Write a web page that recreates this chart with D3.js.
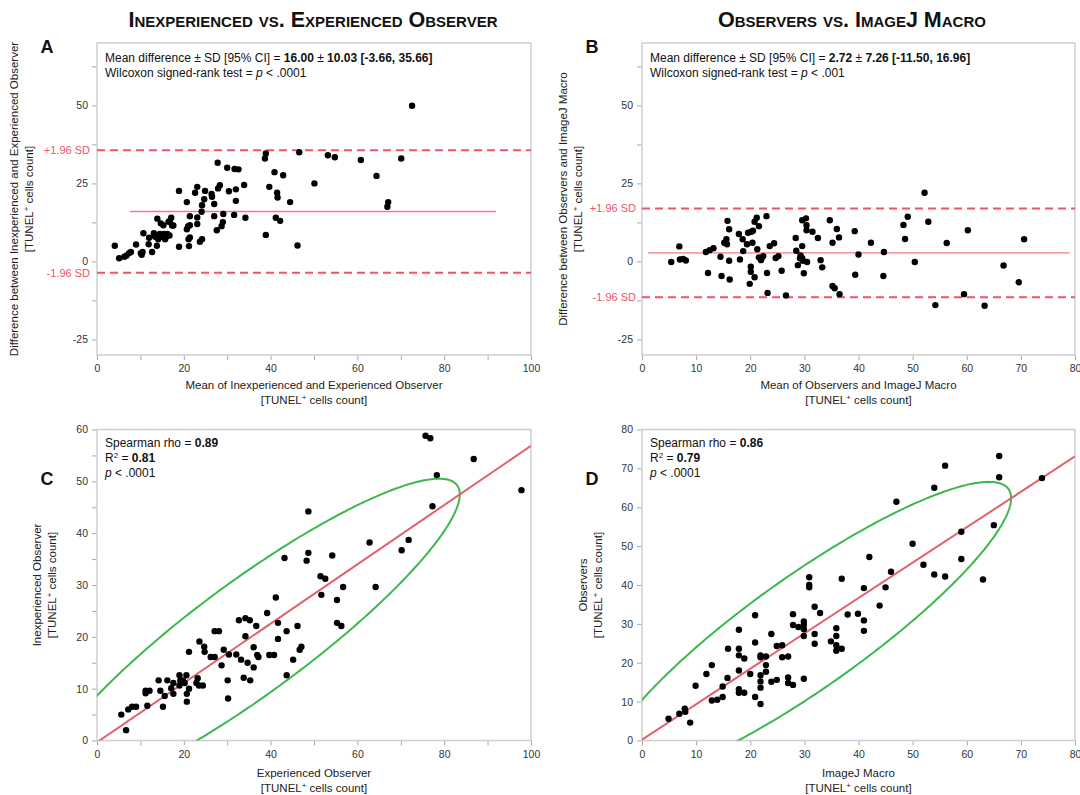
<!DOCTYPE html>
<html><head><meta charset="utf-8">
<script src="https://cdn.jsdelivr.net/npm/d3@7"></script>
<style>
body{margin:0;background:#fff}
text{font-family:"Liberation Sans",Arial,Helvetica,sans-serif}
</style>
</head><body><script>
// ---------------- DATA ----------------
const titles = ["Inexperienced vs. Experienced Observer", "Observers vs. ImageJ Macro"];
const panelLetters = ["A", "B", "C", "D"];

// Panel A: Bland-Altman, inexperienced vs experienced
const aMean = [4.1,5.1,6.3,6.8,7.4,7.8,9.0,10.1,10.3,10.5,10.7,11.9,12.0,12.7,13.1,13.4,13.8,13.9,14.1,14.5,14.7,14.9,15.3,15.4,15.7,15.9,16.2,16.5,16.7,16.8,17.1,17.3,17.6,18.9,18.9,20.7,20.7,21.0,21.1,21.2,21.4,21.4,21.4,22.6,23.1,23.1,23.1,23.7,24.2,24.1,24.2,24.7,24.9,26.4,26.5,27.0,27.0,27.8,27.9,28.3,27.6,28.7,29.0,29.1,30.0,30.4,31.7,32.6,32.0,32.0,31.6,33.9,34.2,38.9,38.7,38.9,40.9,39.7,41.5,41.6,42.9,41.2,42.2,44.5,46.2,46.6,50.1,53.2,54.8,60.8,64.4,67.1,66.9,70.1,72.6];
const aDiff = [5.0,1.0,1.5,1.9,2.6,3.0,5.4,2.6,2.1,3.0,9.0,5.5,7.6,3.0,9.0,7.9,5.0,13.7,7.1,8.8,12.2,7.9,11.6,8.8,7.1,7.9,8.8,12.7,8.3,13.0,14.0,11.5,11.5,22.6,4.7,19.0,10.3,11.3,7.1,4.9,7.7,14.5,11.6,22.0,23.9,14.1,12.0,6.3,7.1,15.9,18.0,19.9,22.6,21.6,20.7,18.4,14.5,31.6,23.4,24.4,10.0,11.3,12.6,15.2,30.0,22.5,29.6,29.5,23.1,19.4,14.9,24.5,14.0,34.6,33.0,8.5,28.6,23.9,22.0,20.5,27.6,14.0,13.0,19.0,5.1,35.0,25.0,34.0,33.4,32.5,27.4,19.0,17.5,33.0,49.9];
const aStats = [16.00, 10.03, -3.66, 35.66];       // mean, SD, lower, upper
const aMeanLineSpan = [7.6, 91.9];

// Panel B: Bland-Altman, observers vs ImageJ macro
const bMean = [5.4,6.9,7.0,7.6,8.1,11.8,12.2,12.5,13.2,14.5,14.7,15.2,15.6,15.8,15.7,16.1,16.1,16.2,17.9,18.1,18.6,18.7,19.4,19.6,20.1,20.1,19.9,20.2,20.4,20.5,20.8,20.8,21.2,21.3,21.6,21.6,22.0,22.1,22.4,23.0,23.1,23.2,23.6,24.4,24.7,25.2,25.8,26.6,28.4,28.5,28.8,29.2,29.3,29.6,29.6,29.6,29.7,29.9,30.3,30.4,30.4,30.5,31.5,32.5,33.0,33.3,34.7,35.2,35.6,36.0,36.4,35.2,36.5,39.3,39.4,40.0,42.3,44.7,44.6,48.3,49.1,48.6,50.4,52.2,52.9,54.2,56.3,59.5,60.2,63.3,66.8,69.6,70.6];
const bDiff = [-0.2,4.8,0.6,0.8,0.3,3.0,-3.7,3.6,4.2,1.5,-4.7,6.0,7.1,13.0,5.5,10.3,0.2,-5.8,8.8,0.6,7.1,3.3,5.5,9.2,-1.7,-3.3,-7.2,9.5,6.0,9.8,-5.1,12.7,14.0,3.9,11.3,1.3,0.4,1.1,1.7,14.5,-3.7,-10.1,4.9,5.8,1.1,1.7,-3.0,-10.9,7.5,3.4,-1.2,1.0,1.9,13.2,4.9,1.0,0.2,-3.8,13.8,11.6,10.0,-0.2,9.5,7.5,0.4,-1.9,13.2,-7.9,-8.6,10.4,7.7,6.0,-10.5,9.7,-4.3,2.2,6.0,3.0,-4.7,11.7,14.3,7.2,-0.2,22.0,12.7,-14.0,5.9,-10.5,10.0,-14.2,-1.3,-6.7,7.1];
const bStats = [2.72, 7.26, -11.50, 16.96];
const bMeanLineSpan = [1.1, 79.0];

// Panel C: experienced (x) vs inexperienced (y)
const cExp = [5.6,6.7,7.2,8.1,9.0,11.2,11.2,12.1,11.6,14.2,14.6,15.2,15.6,16.2,17.1,17.6,17.6,19.0,19.2,19.0,19.8,20.2,20.6,20.7,20.7,21.2,21.2,22.9,23.2,23.6,23.5,24.4,24.7,24.8,26.2,27.1,27.1,28.1,28.7,29.2,30.1,30.2,30.4,32.1,32.7,33.2,33.8,34.2,34.2,34.7,35.2,35.3,36.1,36.1,36.7,36.9,37.2,39.2,39.7,40.8,41.2,41.7,41.7,43.2,43.7,43.7,45.2,46.2,46.7,47.1,48.3,48.7,48.7,51.5,52.6,51.7,54.2,55.3,55.3,56.3,56.7,62.8,64.2,70.2,71.8,75.7,76.8,77.3,78.3,86.8,97.8];
const cInexp = [5.0,2.0,6.0,6.5,6.5,9.1,9.6,9.6,6.7,11.6,9.6,6.5,8.6,11.6,10.1,11.1,9.0,12.6,11.6,10.6,11.6,11.1,12.6,9.0,7.5,17.1,10.0,11.1,12.0,19.1,10.6,10.6,18.1,17.1,16.1,16.1,21.1,21.1,14.5,17.5,11.6,8.1,16.6,16.6,23.2,15.6,12.1,23.6,20.1,15.0,23.2,11.6,18.0,14.1,22.1,16.5,16.1,24.6,16.5,16.5,27.6,22.7,19.6,35.2,21.1,12.6,15.6,22.1,17.5,18.1,34.7,36.2,44.2,31.7,31.2,28.1,35.7,27.1,22.7,22.1,29.6,38.2,29.6,36.7,38.7,58.8,58.3,45.2,51.2,54.3,48.3];
const cStats = ["0.89", "0.81", ".0001"];

// Panel D: ImageJ macro (x) vs observers (y)
const dMacro = [4.9,6.9,7.9,8.0,8.9,9.9,11.9,12.9,12.9,13.9,14.9,14.9,15.9,15.8,17.9,17.9,17.9,17.9,17.9,17.9,18.9,18.9,20.0,20.9,20.9,20.9,21.9,21.9,21.9,21.9,21.9,21.9,22.9,22.9,22.9,23.9,23.9,24.9,24.9,25.9,25.9,27.0,27.0,27.0,27.9,27.9,27.9,28.9,29.9,29.9,29.9,29.9,29.9,30.9,30.9,30.9,31.9,31.9,31.9,32.9,34.9,35.9,35.9,35.9,35.9,36.9,36.9,38.0,39.9,41.0,41.0,41.0,42.0,43.9,45.0,46.0,47.0,50.0,52.0,54.0,54.0,56.0,56.0,59.0,59.0,63.0,65.0,66.0,66.0,73.9];
const dObs = [5.6,6.9,8.2,7.4,4.6,14.1,17.1,19.4,10.3,10.5,11.2,13.9,23.6,16.1,28.5,23.6,21.9,18.0,13.2,12.3,21.1,12.3,17.1,32.2,25.2,11.2,21.9,21.4,16.8,15.2,13.6,9.4,21.6,19.4,17.7,27.4,15.1,24.3,15.6,24.5,21.4,21.6,16.2,14.8,32.5,29.7,14.3,29.2,30.6,29.7,28.6,26.9,15.9,42.0,40.0,39.4,34.4,27.4,24.9,32.8,25.5,28.9,26.9,24.5,23.1,41.6,23.6,32.4,32.6,39.2,30.9,28.2,47.2,34.7,39.4,43.4,61.4,50.6,45.2,65.0,42.7,70.7,42.2,53.7,46.7,41.4,55.4,73.2,67.7,67.5];
const dStats = ["0.86", "0.79", ".0001"];

const baXTicksA = d3.range(0, 101, 10), baXLabelsA = [0,20,40,60,80,100];
const baXTicksB = d3.range(0, 81, 10), baXLabelsB = [0,10,20,30,40,50,60,70,80];
const baYTicks = [-25,-12.5,0,12.5,25,37.5,50,62.5], baYLabels = [-25,0,25,50];
const cYTicks = d3.range(0, 61, 5), cYLabels = [0,10,20,30,40,50,60];
const dYTicks = d3.range(0, 81, 10);

// ---------------- DRAWING ----------------
const W = 1080, H = 795;
const svg = d3.select("body").append("svg").attr("width", W).attr("height", H);
const RED = "#f0526a", PINK = "#f27b8a", REG = "#e0616c", GREEN = "#3db84d";

function panel(id, xDom, xRange, yDom, yRange, xTicks, xLabels, yTicks, yLabels) {
  const x = d3.scaleLinear().domain(xDom).range(xRange);
  const y = d3.scaleLinear().domain(yDom).range(yRange);
  const g = svg.append("g");
  g.append("clipPath").attr("id", "clip" + id).append("rect")
    .attr("x", xRange[0]).attr("y", yRange[1]).attr("width", xRange[1] - xRange[0]).attr("height", yRange[0] - yRange[1]);
  const ax = g.append("g").attr("transform", `translate(0,${yRange[0]})`)
    .call(d3.axisBottom(x).tickValues(xTicks).tickFormat(d => xLabels.includes(d) ? d : "").tickSizeOuter(0).tickSize(5).tickPadding(5));
  const ay = g.append("g").attr("transform", `translate(${xRange[0]},0)`)
    .call(d3.axisLeft(y).tickValues(yTicks).tickFormat(d => yLabels.includes(d) ? d : "").tickSizeOuter(0).tickSize(5).tickPadding(4));
  [ax, ay].forEach(a => {
    a.select(".domain").remove();
    a.selectAll(".tick line").attr("stroke", "#a8a8a8");
    a.selectAll(".tick text").attr("fill", "#333").style("font-size", "10.5px").style("font-family", '"Liberation Sans",Arial,sans-serif');
  });
  g.append("rect").attr("x", xRange[0]).attr("y", yRange[1])
    .attr("width", xRange[1] - xRange[0]).attr("height", yRange[0] - yRange[1])
    .attr("fill", "none").attr("stroke", "#cfcfcf").attr("stroke-width", 1.5);
  const plot = g.append("g").attr("clip-path", `url(#clip${id})`);
  return {x, y, g, plot};
}

function dots(p, xs, ys) {
  p.plot.append("g").selectAll("circle").data(xs.map((v, i) => [v, ys[i]])).join("circle")
    .attr("cx", d => p.x(d[0])).attr("cy", d => p.y(d[1])).attr("r", 3.2).attr("fill", "#000");
}

function blandAltman(p, stats, span, labelX) {
  const [m, sd, lo, hi] = stats;
  p.plot.append("line").attr("x1", p.x(span[0])).attr("x2", p.x(span[1]))
    .attr("y1", p.y(m)).attr("y2", p.y(m)).attr("stroke", PINK).attr("stroke-width", 1.3);
  [lo, hi].forEach(v => {
    p.plot.append("line").attr("x1", p.x.range()[0]).attr("x2", p.x.range()[1])
      .attr("y1", p.y(v)).attr("y2", p.y(v)).attr("stroke", RED).attr("stroke-width", 2)
      .attr("stroke-dasharray", "8,5");
  });
  p.g.append("text").attr("x", labelX).attr("y", p.y(hi) + 4).attr("text-anchor", "end")
    .attr("fill", RED).style("font-size", "11px").text("+1.96 SD");
  p.g.append("text").attr("x", labelX).attr("y", p.y(lo) + 4).attr("text-anchor", "end")
    .attr("fill", RED).style("font-size", "11px").text("-1.96 SD");
}

function regressionAndEllipse(p, xs, ys) {
  const mx = d3.mean(xs), my = d3.mean(ys);
  const sx = d3.deviation(xs), sy = d3.deviation(ys);
  const cov = d3.sum(xs.map((v, i) => (v - mx) * (ys[i] - my))) / (xs.length - 1);
  const r = cov / (sx * sy);
  const slope = cov / (sx * sx), icpt = my - slope * mx;
  const k = Math.sqrt(-2 * Math.log(0.05));
  const pts = d3.range(0, 361).map(i => {
    const t = i * Math.PI / 180;
    return [mx + k * sx * Math.cos(t), my + k * sy * (r * Math.cos(t) + Math.sqrt(1 - r * r) * Math.sin(t))];
  });
  p.plot.append("path").attr("d", d3.line().x(d => p.x(d[0])).y(d => p.y(d[1]))(pts))
    .attr("fill", "none").attr("stroke", GREEN).attr("stroke-width", 2);
  const [x0, x1] = p.x.domain();
  p.plot.append("line").attr("x1", p.x(x0)).attr("y1", p.y(icpt + slope * x0))
    .attr("x2", p.x(x1)).attr("y2", p.y(icpt + slope * x1)).attr("stroke", REG).attr("stroke-width", 2);
}

function axisTitles(p, xLines, yLines, xBase, yPos) {
  const cx = (p.x.range()[0] + p.x.range()[1]) / 2;
  const cy = (p.y.range()[0] + p.y.range()[1]) / 2;
  xLines.forEach((t, i) => {
    const tx = p.g.append("text").attr("x", cx).attr("y", xBase + i * 15).attr("text-anchor", "middle")
      .attr("fill", "#222").style("font-size", "11.5px");
    addLabel(tx, t);
  });
  yLines.forEach((t, i) => {
    const tx = p.g.append("text").attr("transform", `translate(${yPos[i]},${cy}) rotate(-90)`)
      .attr("text-anchor", "middle").attr("fill", "#222").style("font-size", "11.5px");
    addLabel(tx, t);
  });
}
function addLabel(tx, t) {
  if (t.includes("TUNEL+")) {
    const [a, b] = t.split("TUNEL+");
    tx.append("tspan").text(a + "TUNEL");
    tx.append("tspan").attr("dy", -4).style("font-size", "8px").text("+");
    tx.append("tspan").attr("dy", 4).text(b);
  } else tx.text(t);
}

function statLines(p, x, y0, lines) {
  lines.forEach((parts, i) => {
    const t = p.g.append("text").attr("x", x).attr("y", y0 + i * 15).attr("fill", "#111").style("font-size", "12px");
    parts.forEach(([s, st]) => {
      const ts = t.append("tspan").text(s);
      if (st === "b") ts.attr("font-weight", "bold");
      if (st === "i") ts.attr("font-style", "italic");
      if (st === "sup") ts.attr("dy", -4).style("font-size", "8px");
      if (st === "unsup") ts.attr("dy", 4);
    });
  });
}

// Titles
[[titles[0], 313], [titles[1], 852]].forEach(([t, cx]) => {
  svg.append("text").attr("x", cx).attr("y", 27).attr("text-anchor", "middle")
    .attr("font-weight", "bold").style("font-size", "21.5px").style("font-variant", "small-caps")
    .attr("fill", "#111").text(t);
});
[[panelLetters[0], 47, 53], [panelLetters[1], 592, 53], [panelLetters[2], 47, 485], [panelLetters[3], 592, 485]].forEach(([t, x, y]) => {
  svg.append("text").attr("x", x).attr("y", y).attr("text-anchor", "middle")
    .attr("font-weight", "bold").style("font-size", "18px").attr("fill", "#111").text(t);
});

// Panel A
const pA = panel("A", [0, 100], [97, 531], [-30, 70], [355, 43], baXTicksA, baXLabelsA, baYTicks, baYLabels);
blandAltman(pA, aStats, aMeanLineSpan, 90);
dots(pA, aMean, aDiff);
statLines(pA, 105, 62, [
  [["Mean difference ± SD [95% CI] = "], [aStats[0].toFixed(2), "b"], [" ± "], [`${aStats[1].toFixed(2)} [${aStats[2].toFixed(2)}, ${aStats[3].toFixed(2)}]`, "b"]],
  [["Wilcoxon signed-rank test = "], ["p", "i"], [" < .0001"]]
]);
axisTitles(pA, ["Mean of Inexperienced and Experienced Observer", "[TUNEL+ cells count]"],
  ["Difference between Inexperienced and Experienced Observer", "[TUNEL+ cells count]"], 389, [18, 33]);

// Panel B
const pB = panel("B", [0, 80], [642, 1075], [-30, 70], [355, 43], baXTicksB, baXLabelsB, baYTicks, baYLabels);
blandAltman(pB, bStats, bMeanLineSpan, 636);
dots(pB, bMean, bDiff);
statLines(pB, 650, 62, [
  [["Mean difference ± SD [95% CI] = "], [bStats[0].toFixed(2), "b"], [" ± "], [`${bStats[1].toFixed(2)} [${bStats[2].toFixed(2)}, ${bStats[3].toFixed(2)}]`, "b"]],
  [["Wilcoxon signed-rank test = "], ["p", "i"], [" < .001"]]
]);
axisTitles(pB, ["Mean of Observers and ImageJ Macro", "[TUNEL+ cells count]"],
  ["Difference between Observers and ImageJ Macro", "[TUNEL+ cells count]"], 389, [567, 582]);

// Panel C
const pC = panel("C", [0, 100], [97, 531], [0, 60], [740.5, 429.5], baXTicksA, baXLabelsA, cYTicks, cYLabels);
regressionAndEllipse(pC, cExp, cInexp);
dots(pC, cExp, cInexp);
statLines(pC, 105, 447, [
  [["Spearman rho = "], [cStats[0], "b"]],
  [["R"], ["2", "sup"], [" = ", "unsup"], [cStats[1], "b"]],
  [["p", "i"], [" < " + cStats[2]]]
]);
axisTitles(pC, ["Experienced Observer", "[TUNEL+ cells count]"],
  ["Inexperienced Observer", "[TUNEL+ cells count]"], 777, [41, 56]);

// Panel D
const pD = panel("D", [0, 80], [642, 1075], [0, 80], [740.5, 429.5], baXTicksB, baXLabelsB, dYTicks, dYTicks);
regressionAndEllipse(pD, dMacro, dObs);
dots(pD, dMacro, dObs);
statLines(pD, 650, 447, [
  [["Spearman rho = "], [dStats[0], "b"]],
  [["R"], ["2", "sup"], [" = ", "unsup"], [dStats[1], "b"]],
  [["p", "i"], [" < " + dStats[2]]]
]);
axisTitles(pD, ["ImageJ Macro", "[TUNEL+ cells count]"],
  ["Observers", "[TUNEL+ cells count]"], 777, [587, 602]);
</script></body></html>
